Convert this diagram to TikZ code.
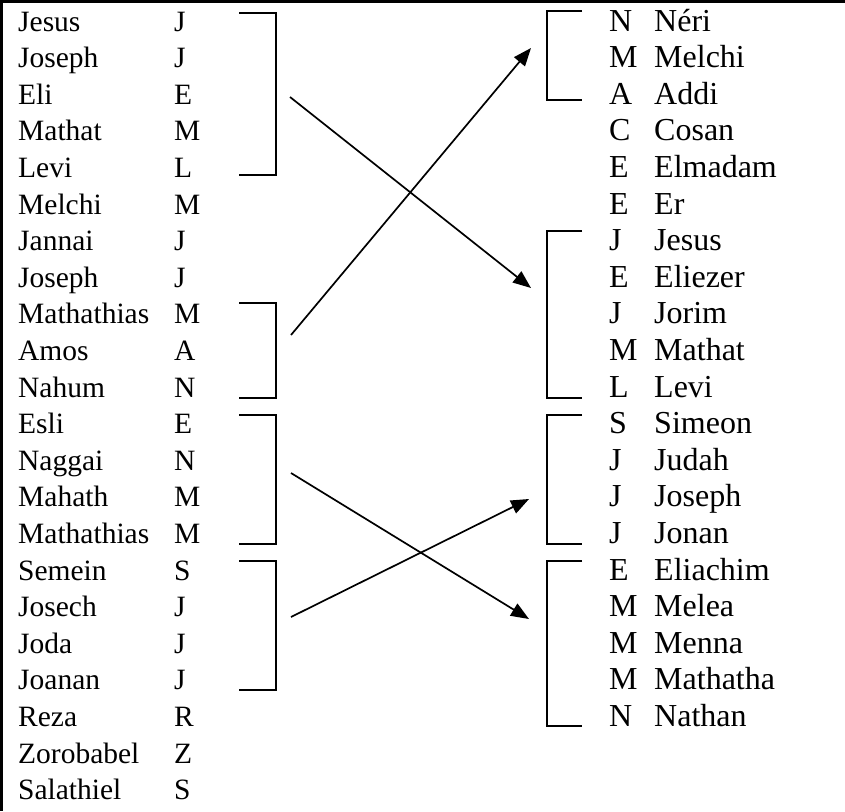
\documentclass[tikz,border=0pt]{standalone}
\usepackage{fontspec}
\setmainfont{Liberation Serif}
\usetikzlibrary{arrows.meta}
\begin{document}
\begin{tikzpicture}[x=1pt,y=-1pt,
  lbl/.style={anchor=base west, inner sep=0pt, font=\fontsize{29.5}{34}\selectfont},
  rlbl/.style={anchor=base west, inner sep=0pt, font=\fontsize{32}{36}\selectfont},
  brk/.style={line width=1.7pt},
  arr/.style={line width=1.7pt, -{Triangle[length=18pt,width=14pt]}},
  frameline/.style={line width=3pt}]
\useasboundingbox (0,0) rectangle (845,811);
\draw[frameline] (0,1.5) -- (845,1.5);
\draw[frameline] (1.5,0) -- (1.5,811);
% left column
\foreach \n/\l [count=\i from 0] in {Jesus/J, Joseph/J, Eli/E, Mathat/M, Levi/L, Melchi/M, Jannai/J, Joseph/J, Mathathias/M, Amos/A, Nahum/N, Esli/E, Naggai/N, Mahath/M, Mathathias/M, Semein/S, Josech/J, Joda/J, Joanan/J, Reza/R, Zorobabel/Z, Salathiel/S}{
  \node[lbl] (ln\i) at (18, 31+36.6*\i) {\n};
  \node[lbl] (ll\i) at (174, 31+36.6*\i) {\l};
}
% right column
\foreach \l/\n [count=\i from 0] in {N/Néri, M/Melchi, A/Addi, C/Cosan, E/Elmadam, E/Er, J/Jesus, E/Eliezer, J/Jorim, M/Mathat, L/Levi, S/Simeon, J/Judah, J/Joseph, J/Jonan, E/Eliachim, M/Melea, M/Menna, M/Mathatha, N/Nathan}{
  \node[rlbl] (rl\i) at (609, 31+36.6*\i) {\l};
  \node[rlbl] (rn\i) at (654, 31+36.6*\i) {\n};
}
% left brackets
\draw[brk] (239,13) -- (276,13) -- (276,175) -- (239,175);
\draw[brk] (239,303) -- (276,303) -- (276,398) -- (239,398);
\draw[brk] (239,415) -- (276,415) -- (276,544) -- (239,544);
\draw[brk] (239,561) -- (276,561) -- (276,690) -- (239,690);
% right brackets
\draw[brk] (582,11) -- (547,11) -- (547,100) -- (582,100);
\draw[brk] (582,231) -- (547,231) -- (547,398) -- (582,398);
\draw[brk] (582,415) -- (547,415) -- (547,544) -- (582,544);
\draw[brk] (582,561) -- (547,561) -- (547,726) -- (582,726);
% arrow ends
\coordinate (s1) at (290,97);
\coordinate (t1) at (531,288);
\coordinate (s2) at (291,335);
\coordinate (t2) at (531,48);
\coordinate (s3) at (291,473);
\coordinate (t3) at (529,619);
\coordinate (s4) at (291,617);
\coordinate (t4) at (529,499);
\draw[arr] (s1) -- (t1);
\draw[arr] (s2) -- (t2);
\draw[arr] (s3) -- (t3);
\draw[arr] (s4) -- (t4);
\end{tikzpicture}
\end{document}
